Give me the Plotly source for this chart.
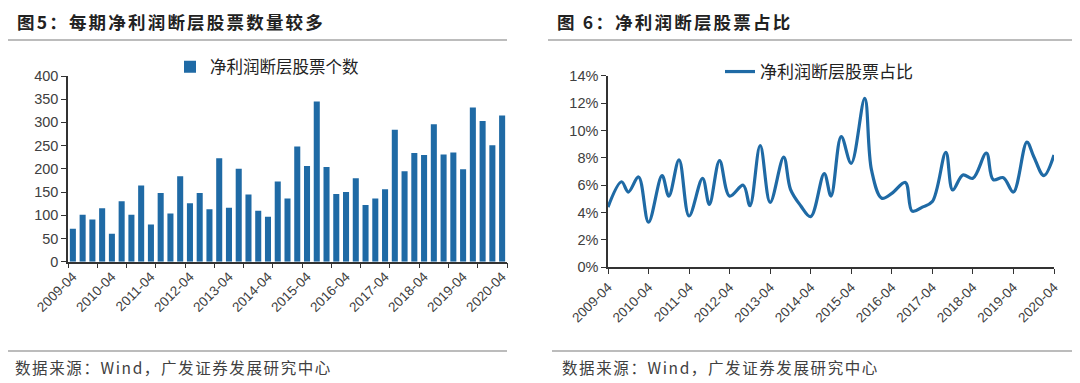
import plotly.graph_objects as go
import pandas as pd

# ---- data ----
periods = [
    "2009-04", "2009-08", "2009-10",
    "2010-01", "2010-04", "2010-08", "2010-10",
    "2011-01", "2011-04", "2011-08", "2011-10",
    "2012-01", "2012-04", "2012-08", "2012-10",
    "2013-01", "2013-04", "2013-08", "2013-10",
    "2014-01", "2014-04", "2014-08", "2014-10",
    "2015-01", "2015-04", "2015-08", "2015-10",
    "2016-01", "2016-04", "2016-08", "2016-10",
    "2017-01", "2017-04", "2017-08", "2017-10",
    "2018-01", "2018-04", "2018-08", "2018-10",
    "2019-01", "2019-04", "2019-08", "2019-10",
    "2020-01", "2020-04",
]
gap_counts = [
    71, 101, 91, 115, 60, 130, 101, 164, 80, 148, 104, 184, 126, 148, 113,
    223, 116, 200, 145, 110, 97, 173, 136, 248, 206, 345, 204, 146, 150, 180,
    122, 136, 156, 284, 195, 234, 230, 296, 231, 235, 199, 332, 303, 251, 315,
]
gap_share = [
    4.4, 6.25, 5.5, 6.6, 3.3, 6.7, 5.2, 7.85, 3.75, 6.5, 4.6, 7.8, 5.2, 6.0, 4.5,
    8.9, 4.75, 8.05, 5.7, 4.5, 3.7, 6.85, 5.2, 9.55, 7.6, 12.35, 7.1, 5.05, 5.4,
    6.2, 4.1, 4.4, 4.8, 8.4, 5.65, 6.75, 6.5, 8.35, 6.4, 6.55, 5.5, 9.15, 8.1,
    6.7, 8.2,
]
year_labels = [p for p in periods if p.endswith("-04")]
count_ticks = [0, 50, 100, 150, 200, 250, 300, 350, 400]
share_ticks = [0, 2, 4, 6, 8, 10, 12, 14]
share_tick_text = ["0%", "2%", "4%", "6%", "8%", "10%", "12%", "14%"]

BLUE = "#1F6AA5"
AX = "#333333"
TXT = "#404040"
OFF = 8  # page body margin in the browser
W, H = 1080 - OFF, 383 - OFF

pos = list(range(len(periods)))
label_pos = [periods.index(p) for p in year_labels]
dates = pd.to_datetime([p + "-01" for p in periods])


def py(px):
    return 1 - (px - OFF) / H


def pxx(px):
    return (px - OFF) / W


fig = go.Figure()
fig.add_trace(go.Bar(
    x=pos, y=gap_counts, name="净利润断层股票个数",
    marker=dict(color=BLUE, line=dict(width=0)),
    xaxis="x", yaxis="y", legend="legend",
))
fig.add_trace(go.Scatter(
    x=dates, y=gap_share, name="净利润断层股票占比", mode="lines",
    line=dict(color=BLUE, width=3.2, shape="spline", smoothing=1.0),
    xaxis="x2", yaxis="y2", legend="legend2",
))

tickfont = dict(family="Liberation Sans, Arial, sans-serif", size=14.5, color=TXT)
xtickfont = dict(family="Liberation Sans, Arial, sans-serif", size=13.5, color=TXT)

fig.update_layout(
    width=W, height=H,
    margin=dict(l=0, r=0, t=0, b=0),
    paper_bgcolor="white", plot_bgcolor="white",
    bargap=0.38,
    showlegend=True,
    xaxis=dict(
        domain=[pxx(68), pxx(507)], anchor="y", automargin=False,
        range=[-0.5, len(periods) - 0.5],
        tickmode="array", tickvals=label_pos, ticktext=year_labels,
        tickangle=-45, ticks="", showgrid=False, zeroline=False,
        showline=True, linecolor=AX, linewidth=1.5,
        tickfont=xtickfont,
        minor=dict(ticks="outside", tickmode="linear", tick0=-0.5, dtick=3,
                   ticklen=5, tickcolor=AX, tickwidth=1.2, showgrid=False),
    ),
    yaxis=dict(
        domain=[py(261.7), py(76)], anchor="x", automargin=False,
        range=[0, 400], tickvals=count_ticks,
        ticks="outside", ticklen=5, tickcolor=AX, tickwidth=1.2,
        showline=True, linecolor=AX, linewidth=1.5,
        showgrid=False, zeroline=False, tickfont=tickfont,
    ),
    xaxis2=dict(
        domain=[pxx(608), pxx(1054)], anchor="y2", automargin=False,
        type="date", range=[dates[0], dates[-1]],
        tick0=dates[0], dtick="M12", tickformat="%Y-%m",
        tickangle=-45, ticks="outside", ticklen=5, tickcolor=AX, tickwidth=1.2,
        showline=True, linecolor=AX, linewidth=1.5,
        showgrid=False, zeroline=False, tickfont=xtickfont,
    ),
    yaxis2=dict(
        domain=[py(267.3), py(75.7)], anchor="x2", automargin=False,
        range=[0, 14], tickmode="array", tickvals=share_ticks, ticktext=share_tick_text,
        ticks="outside", ticklen=5, tickcolor=AX, tickwidth=1.2,
        showline=True, linecolor=AX, linewidth=1.5,
        showgrid=False, zeroline=False, tickfont=tickfont,
    ),
    legend=dict(
        x=pxx(170), y=py(67), xanchor="left", yanchor="middle",
        bgcolor="rgba(0,0,0,0)", borderwidth=0,
        font=dict(family="Noto Sans CJK SC", size=16.5, color="#222222"),
        itemwidth=30,
    ),
    legend2=dict(
        x=pxx(720), y=py(72), xanchor="left", yanchor="middle",
        bgcolor="rgba(0,0,0,0)", borderwidth=0,
        font=dict(family="Noto Sans CJK SC", size=17, color="#222222"),
        itemwidth=30,
    ),
)

title_font = dict(family="Noto Sans CJK SC", size=17.5, color="#222222")
foot_font = dict(family="Noto Sans CJK SC", size=15.5, color=TXT)
TS = '<span style="letter-spacing:2.2px">'
FS = '<span style="letter-spacing:1.6px">'
annos = [
    dict(text=TS + "<b>图5：每期净利润断层股票数量较多</b></span>", x=pxx(16), y=py(22), font=title_font),
    dict(text=TS + "<b>图 6：净利润断层股票占比</b></span>", x=pxx(556), y=py(22), font=title_font),
    dict(text=FS + "数据来源：Wind，广发证券发展研究中心</span>", x=pxx(14), y=py(367), font=foot_font),
    dict(text=FS + "数据来源：Wind，广发证券发展研究中心</span>", x=pxx(561), y=py(367), font=foot_font),
]
for a in annos:
    fig.add_annotation(xref="paper", yref="paper", xanchor="left", yanchor="middle",
                       showarrow=False, borderpad=0, **a)

line_style = dict(color="#A6A6A6", width=1.5)
for x0, x1, yy in [(8, 507, 40), (548, 1075, 40), (8, 507, 351), (552, 1075, 351)]:
    fig.add_shape(type="line", xref="paper", yref="paper",
                  x0=pxx(x0), x1=pxx(x1), y0=py(yy), y1=py(yy), line=line_style)

fig.write_html("out.html")
